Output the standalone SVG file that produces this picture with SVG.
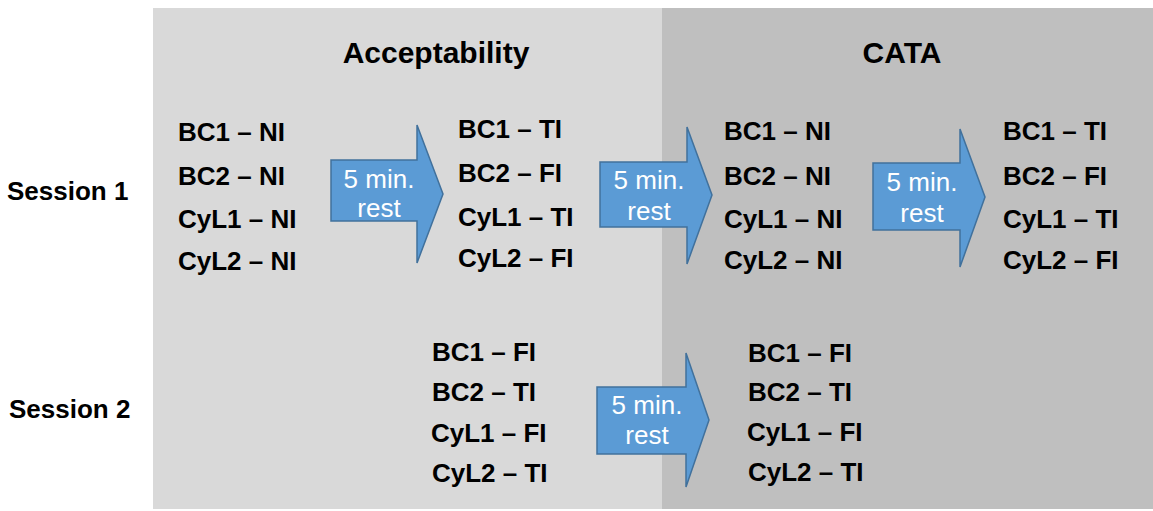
<svg xmlns="http://www.w3.org/2000/svg" width="1153" height="511" viewBox="0 0 1153 511">
<style>
.t{font-family:"Liberation Sans",Arial,sans-serif;font-weight:bold;font-size:26px;fill:#000}
.h{font-family:"Liberation Sans",Arial,sans-serif;font-weight:bold;font-size:30px;fill:#000;text-anchor:middle}
.a{fill:#5b9bd5;stroke:#41719c;stroke-width:1.5}
.w{font-family:"Liberation Sans",Arial,sans-serif;font-size:26px;fill:#fff;text-anchor:middle}
</style>
<rect x="0" y="0" width="1153" height="511" fill="#fff"/>
<g id="panels">
<rect x="153" y="8" width="509" height="501" fill="#d9d9d9"/>
<rect x="662" y="8" width="491" height="501" fill="#bfbfbf"/>
</g>
<g id="headers">
<text class="h" x="436" y="63">Acceptability</text>
<text class="h" x="902" y="63">CATA</text>
</g>
<g id="sessions">
<text class="t" x="7" y="200" font-size="27">Session 1</text>
<text class="t" x="9" y="418" font-size="27">Session 2</text>
</g>
<g id="s1-col1">
<text class="t" x="178" y="141">BC1 – NI</text>
<text class="t" x="178" y="185">BC2 – NI</text>
<text class="t" x="178" y="228">CyL1 – NI</text>
<text class="t" x="178" y="270">CyL2 – NI</text>
</g>
<g id="s1-col2">
<text class="t" x="458" y="138">BC1 – TI</text>
<text class="t" x="458" y="182">BC2 – FI</text>
<text class="t" x="458" y="226">CyL1 – TI</text>
<text class="t" x="458" y="267">CyL2 – FI</text>
</g>
<g id="s1-col3">
<text class="t" x="724" y="140">BC1 – NI</text>
<text class="t" x="724" y="185">BC2 – NI</text>
<text class="t" x="724" y="228">CyL1 – NI</text>
<text class="t" x="724" y="269">CyL2 – NI</text>
</g>
<g id="s1-col4">
<text class="t" x="1003" y="140">BC1 – TI</text>
<text class="t" x="1003" y="185">BC2 – FI</text>
<text class="t" x="1003" y="228">CyL1 – TI</text>
<text class="t" x="1003" y="269">CyL2 – FI</text>
</g>
<g id="s2-col1">
<text class="t" x="432" y="361">BC1 – FI</text>
<text class="t" x="432" y="401">BC2 – TI</text>
<text class="t" x="431" y="442">CyL1 – FI</text>
<text class="t" x="432" y="482">CyL2 – TI</text>
</g>
<g id="s2-col2">
<text class="t" x="748" y="362">BC1 – FI</text>
<text class="t" x="748" y="401">BC2 – TI</text>
<text class="t" x="747" y="441">CyL1 – FI</text>
<text class="t" x="748" y="481">CyL2 – TI</text>
</g>
<g id="connectors">
<g id="arrow1">
<path class="a" d="M331,160 H417 V125 L443,194 L417,263 V221 H331 Z"/>
<text class="w" x="379" y="188">5 min.</text>
<text class="w" x="379" y="217">rest</text>
</g>
<g id="arrow2">
<path class="a" d="M600,162 H687 V127 L712,195 L687,264 V227 H600 Z"/>
<text class="w" x="649" y="189">5 min.</text>
<text class="w" x="649" y="220">rest</text>
</g>
<g id="arrow3">
<path class="a" d="M873,163 H960 V129 L985,197 L960,267 V230 H873 Z"/>
<text class="w" x="922" y="191">5 min.</text>
<text class="w" x="922" y="222">rest</text>
</g>
<g id="arrow4">
<path class="a" d="M597,387 H686 V353 L709,420 L686,487 V454 H597 Z"/>
<text class="w" x="647" y="414">5 min.</text>
<text class="w" x="647" y="444">rest</text>
</g>
</g>
</svg>
